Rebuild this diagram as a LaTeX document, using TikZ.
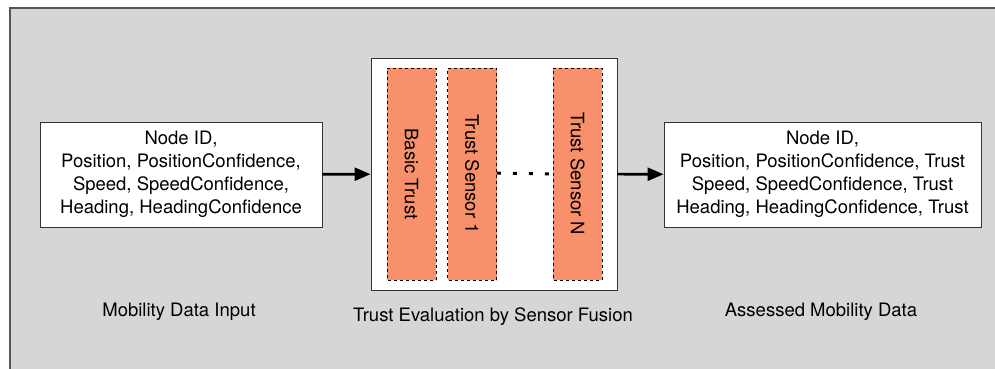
\documentclass[tikz,border=0pt]{standalone}
\usepackage{fontspec}
\setmainfont{TeX Gyre Heros}
\usepackage{tikz}
\usetikzlibrary{positioning,arrows.meta}
\definecolor{ink}     {HTML}{000000}
\definecolor{frameink}{HTML}{555555}
\definecolor{bggray}  {HTML}{D6D6D6}
\definecolor{salmon}  {HTML}{F9906C}
\tikzset{
  every node/.style={font=\fontsize{18.5}{23}\selectfont},
  % --- nodes
  databox/.style = {draw=ink!80, fill=white, align=center, line width=0.9pt,
                    inner sep=2pt, minimum height=105pt},
  fusebox/.style = {draw=ink!80, fill=white, line width=0.9pt,
                    minimum width=246pt, minimum height=232pt},
  sensor/.style  = {draw=ink, fill=salmon, dashed, line width=0.8pt, rotate=-90,
                    minimum width=212pt, minimum height=49pt, inner sep=0pt},
  caption/.style = {align=center},
  % --- edges
  flow/.style    = {-{Triangle[length=16pt,width=13pt]}, line width=2.6pt, draw=ink},
  gap/.style     = {line width=3pt, dash pattern=on 4pt off 12pt, draw=ink},
}
\begin{document}
\begin{tikzpicture}[x=1pt,y=-1pt]
  \useasboundingbox (0,0) rectangle (995,369);
  \draw[fill=bggray, draw=frameink, line width=1.2pt] (10,8) rectangle (1010,390);

  \node[databox, minimum width=282pt] (input) at (181,174.5)
    {Node ID,\\Position, PositionConfidence,\\Speed, SpeedConfidence,\\Heading, HeadingConfidence};
  \node[fusebox] (fusion) at (494,174) {};
  \node[sensor] (basic) at (411.5,174) {Basic Trust};
  \node[sensor] (sone)  at (472,174)   {Trust Sensor 1};
  \node[sensor] (sn)    at (577.5,174) {Trust Sensor N};
  \node[databox, minimum width=317pt] (output) at (822.5,174.5)
    {Node ID,\\Position, PositionConfidence, Trust\\Speed, SpeedConfidence, Trust\\Heading, HeadingConfidence, Trust};

  \node[caption] (lin)  at (179,312) {Mobility Data Input};
  \node[caption] (lfus) at (493,317) {Trust Evaluation by Sensor Fusion};
  \node[caption] (lout) at (821,312) {Assessed Mobility Data};

  \draw[flow] (input) -- (fusion);
  \draw[flow] (fusion) -- (output);
  \draw[gap] ([yshift=1pt]sone.north) -- (sn.south);
\end{tikzpicture}
\end{document}
